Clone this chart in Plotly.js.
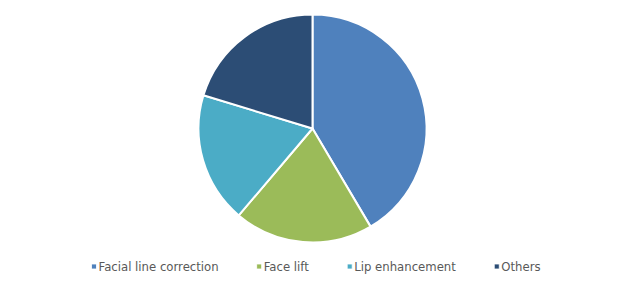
<!DOCTYPE html>
<html>
<head>
<meta charset="utf-8">
<script src="https://cdn.plot.ly/plotly-3.0.1.min.js"></script>
<style>
html,body{margin:0;padding:0;background:#fff;}
#chart{width:625px;height:288px;}
#chart .legend .legendpoints path{transform:translate(35.5px,0px) scale(0.42);}
</style>
</head>
<body>
<div id="chart"></div>
<script>
const categories = ["Facial line correction", "Face lift", "Lip enhancement", "Others"];
const shares = [41.5, 19.7, 18.5, 20.3];
const colors = ["#4F81BD", "#9BBB59", "#4BACC6", "#2C4D75"];

const data = [{
  type: "pie",
  labels: categories,
  values: shares,
  sort: false,
  direction: "clockwise",
  rotation: 0,
  textinfo: "none",
  hoverinfo: "label+percent",
  marker: {colors: colors, line: {color: "#ffffff", width: 2}},
  domain: {x: [0, 1], y: [1 - 242.5/288, 1 - 14.5/288]}
}];

const layout = {
  width: 625, height: 288,
  margin: {l: 0, r: 0, t: 0, b: 0},
  paper_bgcolor: "#ffffff",
  showlegend: true,
  legend: {
    orientation: "h", x: 0.0936, xanchor: "left", y: 1 - 266.5/288, yanchor: "middle",
    font: {family: "DejaVu Sans, Verdana, sans-serif", size: 11.7, color: "#595959"},
    itemwidth: 30
  },
  font: {family: "DejaVu Sans, Verdana, sans-serif"}
};

Plotly.newPlot("chart", data, layout, {displayModeBar: false, staticPlot: true});
</script>
</body>
</html>
